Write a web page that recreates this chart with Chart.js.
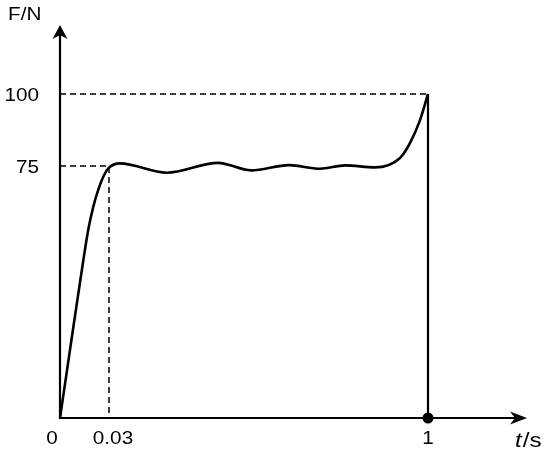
<!DOCTYPE html>
<html>
<head>
<meta charset="utf-8">
<script src="https://cdn.jsdelivr.net/npm/chart.js@4/dist/chart.umd.min.js"></script>
<style>
html,body{margin:0;padding:0;background:#fff;}
#wrap{width:550px;height:456px;position:relative;}
</style>
</head>
<body>
<div id="wrap"><canvas id="c"></canvas></div>
<script>
// ---- data ----
const tValues = [0, 0.0061, 0.0122, 0.0173, 0.0204, 0.0234, 0.0265, 0.0296, 0.0633, 0.2055, 0.3615, 0.4618, 0.5774, 0.6716, 0.7477, 0.8389, 0.915, 0.9455, 0.976, 1];
const fValues = [0, 20.2, 40.2, 56.0, 62.9, 67.9, 71.8, 74.3, 75.9, 73.0, 76.1, 73.7, 75.3, 74.2, 75.2, 74.6, 77.8, 83.0, 91.0, 100];
const xTickValues = [0, 0.03, 1];
const xTickLabels = ['0', '0.03', '1'];
const yTickValues = [75, 100];
const yTickLabels = ['75', '100'];
const riseEnd = {t: 0.03, f: 75};
const peak = {t: 1, f: 100};
const xAxisTitle = ['t', '/s'];
const yAxisTitle = 'F/N';

// ---- schematic (not-to-scale) axis: piecewise linear scale ----
const breaks = {
  x: {values: [0, 0.03, 1, 1.3], fractions: [0, 49/467, 368/467, 1]},
  y: {values: [0, 75, 100, 124], fractions: [0, 252/393, 324/393, 1]}
};
class PiecewiseScale extends Chart.LinearScale {
  _map(v) {
    const b = breaks[this.axis];
    const vs = b.values, fs = b.fractions;
    if (v <= vs[0]) return fs[0];
    for (let i = 1; i < vs.length; i++) {
      if (v <= vs[i]) return fs[i-1] + (fs[i]-fs[i-1]) * (v - vs[i-1]) / (vs[i] - vs[i-1]);
    }
    const n = vs.length - 1;
    return fs[n] + (fs[n]-fs[n-1]) * (v - vs[n]) / (vs[n] - vs[n-1]);
  }
  _unmap(d) {
    const b = breaks[this.axis];
    const vs = b.values, fs = b.fractions;
    for (let i = 1; i < fs.length; i++) {
      if (d <= fs[i]) return vs[i-1] + (vs[i]-vs[i-1]) * (d - fs[i-1]) / (fs[i] - fs[i-1]);
    }
    return vs[vs.length-1];
  }
  getPixelForValue(v) { return this.getPixelForDecimal(this._map(v)); }
  getValueForPixel(p) { return this._unmap(this.getDecimalForPixel(p)); }
}
PiecewiseScale.id = 'piecewise';
PiecewiseScale.defaults = Chart.LinearScale.defaults;
Chart.register(PiecewiseScale);

const FONT = '"Liberation Sans", Arial, sans-serif';
function stretchedText(ctx, text, x, y, align, font) {
  ctx.save();
  ctx.font = font;
  ctx.textAlign = align;
  ctx.textBaseline = 'alphabetic';
  ctx.fillStyle = '#000';
  ctx.translate(x, y);
  ctx.scale(1.15, 1);
  ctx.fillText(text, 0, 0);
  ctx.restore();
}

const axesPlugin = {
  id: 'axesPlugin',
  beforeDatasetsDraw(chart) {
    const ctx = chart.ctx, xs = chart.scales.x, ys = chart.scales.y;
    const x0 = xs.getPixelForValue(0), y0 = ys.getPixelForValue(0);
    const top = chart.chartArea.top, right = chart.chartArea.right;
    ctx.save();
    ctx.strokeStyle = '#000';
    ctx.fillStyle = '#000';
    ctx.lineWidth = 2.2;
    ctx.beginPath();
    ctx.moveTo(x0, y0 + 1); ctx.lineTo(x0, top + 8);
    ctx.moveTo(x0 - 1, y0); ctx.lineTo(right - 8, y0);
    ctx.stroke();
    // arrow heads
    ctx.beginPath();
    ctx.moveTo(x0, top); ctx.lineTo(x0 - 7.5, top + 14); ctx.lineTo(x0, top + 10); ctx.lineTo(x0 + 7.5, top + 14); ctx.closePath();
    ctx.fill();
    ctx.beginPath();
    ctx.moveTo(right, y0); ctx.lineTo(right - 17, y0 - 6.5); ctx.lineTo(right - 12, y0); ctx.lineTo(right - 17, y0 + 6.5); ctx.closePath();
    ctx.fill();
    ctx.restore();
  },
  afterDraw(chart) {
    const ctx = chart.ctx, xs = chart.scales.x, ys = chart.scales.y;
    const x0 = xs.getPixelForValue(0), y0 = ys.getPixelForValue(0);
    const f18 = '18px ' + FONT;
    // y tick labels
    yTickValues.forEach((v, i) => {
      stretchedText(ctx, yTickLabels[i], x0 - 21, ys.getPixelForValue(v) + 6.5, 'right', f18);
    });
    // x tick labels
    const xOff = [-8, 4, 0];
    xTickValues.forEach((v, i) => {
      stretchedText(ctx, xTickLabels[i], xs.getPixelForValue(v) + xOff[i], y0 + 26, 'center', f18);
    });
    // axis titles
    stretchedText(ctx, yAxisTitle, 8, 20, 'left', f18);
    const tx = 515, ty = y0 + 29;
    stretchedText(ctx, xAxisTitle[0], tx, ty, 'left', 'italic 21px ' + FONT);
    ctx.save(); ctx.font = 'italic 21px ' + FONT; const w = ctx.measureText(xAxisTitle[0]).width * 1.15; ctx.restore();
    stretchedText(ctx, xAxisTitle[1], tx + w + 1, ty, 'left', '21px ' + FONT);
  }
};

const curve = tValues.map((t, i) => ({x: t, y: fValues[i]}));

new Chart(document.getElementById('c'), {
  type: 'line',
  data: {
    datasets: [
      {data: curve, borderColor: '#000', borderWidth: 2.6, pointRadius: 0, cubicInterpolationMode: 'monotone', fill: false, clip: false},
      {data: [{x: peak.t, y: peak.f}, {x: peak.t, y: 0}], borderColor: '#000', borderWidth: 2.2, pointRadius: 0, tension: 0, clip: false},
      {data: [{x: 0, y: peak.f}, {x: peak.t, y: peak.f}], borderColor: '#000', borderWidth: 1.5, borderDash: [6, 4], pointRadius: 0, tension: 0, clip: false},
      {data: [{x: 0, y: riseEnd.f}, {x: riseEnd.t, y: riseEnd.f}, {x: riseEnd.t, y: 0}], borderColor: '#000', borderWidth: 1.5, borderDash: [6, 4], pointRadius: 0, tension: 0, clip: false},
      {data: [{x: peak.t, y: 0}], showLine: false, pointRadius: 5.5, pointBackgroundColor: '#000', pointBorderColor: '#000', pointBorderWidth: 0, clip: false}
    ]
  },
  options: {
    responsive: true,
    maintainAspectRatio: false,
    animation: false,
    events: [],
    layout: {padding: {left: 60, right: 23, top: 25, bottom: 38}},
    plugins: {legend: {display: false}, tooltip: {enabled: false}},
    scales: {
      x: {type: 'piecewise', min: 0, max: 1.3, display: false},
      y: {type: 'piecewise', min: 0, max: 124, display: false}
    }
  },
  plugins: [axesPlugin]
});
</script>
</body>
</html>
